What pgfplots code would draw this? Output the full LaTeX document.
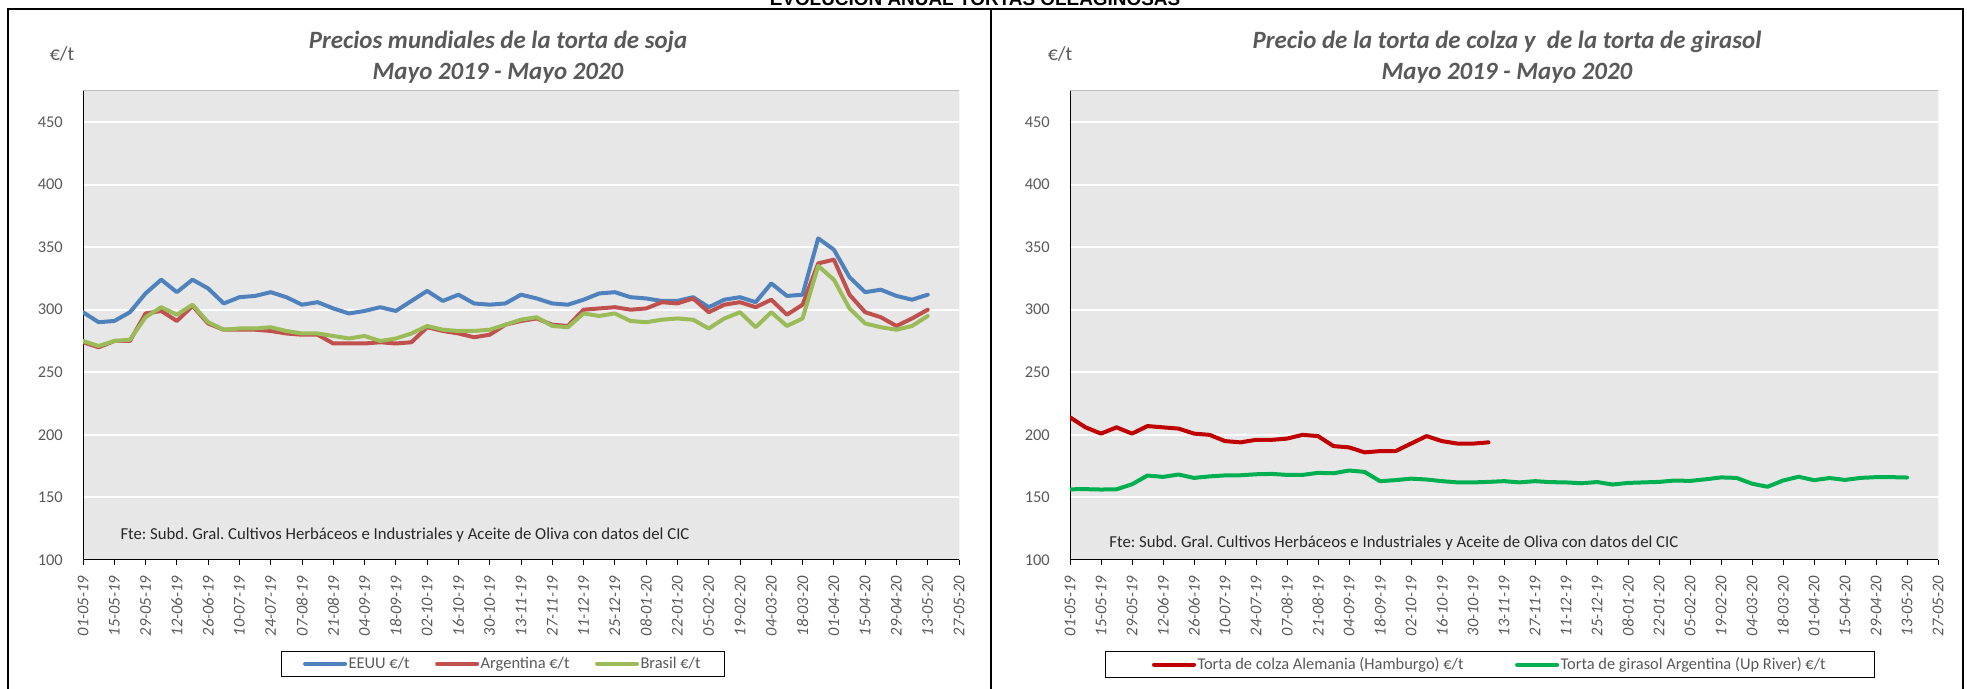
\documentclass[border=0pt]{standalone}
\usepackage{fontspec}
\setmainfont{Carlito}
\newfontfamily\arialfont{Liberation Sans}
\usepackage{pgfplots}
\usepackage{pgfplotstable}
\pgfplotsset{compat=1.18}
\frenchspacing

\definecolor{cblue}{RGB}{79,129,189}
\definecolor{cred}{RGB}{192,80,77}
\definecolor{cgreen}{RGB}{155,187,89}
\definecolor{colza}{RGB}{192,0,0}
\definecolor{girasol}{RGB}{0,176,80}
\definecolor{plotbg}{RGB}{231,231,231}
\definecolor{bordergray}{RGB}{190,190,190}
\definecolor{textgray}{RGB}{89,89,89}
\definecolor{ftegray}{RGB}{40,40,40}

% soja: EEUU, Argentina, Brasil (semanal, semana 0 = 01-05-19)
\pgfplotstableread{
wk eeuu arg bra
0 298 274 275
1 290 270 271
2 291 275 275
3 298 275 276
4 313 297 294
5 324 299 302
6 314 291 296
7 324 303 304
8 317 289 290
9 305 284 284
10 310 284 285
11 311 284 285
12 314 283 286
13 310 281 283
14 304 280 281
15 306 280 281
16 301 273 279
17 297 273 277
18 299 273 279
19 302 274 275
20 299 273 277
21 307 274 281
22 315 286 287
23 307 283 284
24 312 281 283
25 305 278 283
26 304 280 284
27 305 288 288
28 312 291 292
29 309 293 294
30 305 288 287
31 304 287 286
32 308 300 297
33 313 301 295
34 314 302 297
35 310 300 291
36 309 301 290
37 307 306 292
38 307 305 293
39 310 309 292
40 302 298 285
41 308 304 293
42 310 306 298
43 306 302 286
44 321 308 298
45 311 296 287
46 312 304 293
47 357 337 335
48 348 340 324
49 326 312 301
50 314 298 289
51 316 294 286
52 311 287 284
53 308 293 287
54 312 300 295
}\soja

\pgfplotstableread{
wk v
0 214
1 206
2 201
3 206
4 201
5 207
6 206
7 205
8 201
9 200
10 195
11 194
12 196
13 196
14 197
15 200
16 199
17 191
18 190
19 186
20 187
21 187
22 193
23 199
24 195
25 193
26 193
27 194
}\colza

\pgfplotstableread{
wk v
0 156.5
1 156.6
2 156.3
3 156.5
4 160.5
5 167.5
6 166.4
7 168.3
8 165.6
9 166.8
10 167.6
11 167.7
12 168.5
13 168.8
14 168.0
15 168.0
16 169.6
17 169.3
18 171.5
19 170.4
20 163.0
21 163.8
22 165.0
23 164.3
24 163.0
25 162.0
26 162.0
27 162.4
28 163.0
29 162.0
30 163.0
31 162.2
32 162.0
33 161.3
34 162.3
35 160.3
36 161.6
37 162.0
38 162.4
39 163.5
40 163.2
41 164.5
42 166.0
43 165.6
44 161.0
45 158.5
46 163.5
47 166.5
48 163.8
49 165.5
50 164.0
51 165.6
52 166.2
53 166.2
54 165.9
}\girasol

\pgfplotsset{
  tortas/.style={
    scale only axis, height=469.3bp,
    xmin=0, xmax=56, ymin=100, ymax=475,
    xtick={0,2,...,56},
    xticklabels={01-05-19,15-05-19,29-05-19,12-06-19,26-06-19,10-07-19,24-07-19,07-08-19,21-08-19,04-09-19,18-09-19,02-10-19,16-10-19,30-10-19,13-11-19,27-11-19,11-12-19,25-12-19,08-01-20,22-01-20,05-02-20,19-02-20,04-03-20,18-03-20,01-04-20,15-04-20,29-04-20,13-05-20,27-05-20},
    ytick={100,150,...,450},
    ymajorgrids, grid style={white, line width=2bp},
    axis background/.style={fill=plotbg},
    axis line style={draw=none},
    tick align=outside, xtick pos=bottom, ytick pos=left, major tick length=5bp,
    xtick style={draw=black, line width=1bp},
    ytick style={draw=none},
    /pgf/number format/assume math mode=true,
    yticklabel style={font=\fontsize{16.5}{18}\selectfont, text=textgray, inner sep=0pt, xshift=-15bp},
    xticklabel style={font=\itshape\fontsize{16.5}{18}\selectfont, text=textgray, yshift=-11bp, rotate=90, anchor=east, inner sep=0pt},
    legend cell align=left,
    every axis plot/.append style={line width=4bp, line join=round, line cap=round},
    legend image code/.code={\draw[##1] (0bp,0bp) -- (40bp,0bp);},
  },
}
\tikzset{
  titulo/.style={anchor=base, font=\bfseries\itshape\fontsize{25}{30}\selectfont, text=textgray},
  unidad/.style={font=\fontsize{20}{22}\selectfont, text=textgray},
  nota/.style={anchor=west, font=\fontsize{16.8}{19}\selectfont, text=ftegray},
}

\newcommand{\fte}{Fte: Subd. Gral. Cultivos Herbáceos e Industriales y Aceite de Oliva con datos del CIC}

\begin{document}
\begin{tikzpicture}
\useasboundingbox (0bp,0bp) rectangle (1967bp,689bp);
\draw[line width=2bp] (8bp,-5bp) rectangle (991bp,680bp);
\draw[line width=2bp] (991bp,-5bp) rectangle (1963bp,680bp);
\node[anchor=base, font=\arialfont\bfseries\fontsize{19}{22}\selectfont] at (975bp,683bp) {EVOLUCIÓN ANUAL TORTAS OLEAGINOSAS};

% titulos
\node[titulo] at (498bp,640bp) {Precios mundiales de la torta de soja};
\node[titulo] at (498bp,609bp) {Mayo 2019 - Mayo 2020};
\node[unidad] at (62bp,635bp) {€/t};
\node[titulo] at (1507bp,640bp) {Precio de la torta de colza y \ de la torta de girasol};
\node[titulo] at (1507bp,609bp) {Mayo 2019 - Mayo 2020};
\node[unidad] at (1060bp,635bp) {€/t};

\begin{axis}[tortas, width=876bp, at={(83bp,129bp)}, anchor=south west,
  legend style={at={(0.479,-0.2207)}, anchor=center, legend columns=3,
    draw=black, line width=0.8bp, fill=white, text=textgray,
    font=\fontsize{16.5}{18}\selectfont, inner xsep=22bp, inner ysep=4bp,
    nodes={inner xsep=1.5bp},
    /tikz/every even column/.append style={column sep=24bp}}]
\draw[bordergray, line width=1bp] (rel axis cs:0,0) rectangle (rel axis cs:1,1);
\draw[black, line width=1.5bp] (rel axis cs:0,1) -- (rel axis cs:0,0) -- (rel axis cs:1,0);
\addplot[cblue] table[x=wk, y=eeuu] {\soja};
\addlegendentry{EEUU €/t}
\addplot[cred] table[x=wk, y=arg] {\soja};
\addlegendentry{Argentina €/t}
\addplot[cgreen] table[x=wk, y=bra] {\soja};
\addlegendentry{Brasil €/t}
\node[nota] at (rel axis cs:0.0388,0.0533) {\fte};
\end{axis}

\begin{axis}[tortas, width=868bp, at={(1070bp,129bp)}, anchor=south west,
  legend style={at={(0.4834,-0.2228)}, anchor=center, legend columns=2,
    draw=black, line width=0.8bp, fill=white, text=textgray,
    font=\fontsize{16.5}{18}\selectfont, inner xsep=47bp, inner ysep=4bp,
    nodes={inner xsep=1.5bp},
    /tikz/every even column/.append style={column sep=50bp}}]
\draw[bordergray, line width=1bp] (rel axis cs:0,0) rectangle (rel axis cs:1,1);
\draw[black, line width=1.5bp] (rel axis cs:0,1) -- (rel axis cs:0,0) -- (rel axis cs:1,0);
\addplot[colza] table[x=wk, y=v] {\colza};
\addlegendentry{Torta de colza Alemania (Hamburgo) €/t}
\addplot[girasol] table[x=wk, y=v] {\girasol};
\addlegendentry{Torta de girasol Argentina (Up River) €/t}
\node[nota] at (rel axis cs:0.0413,0.036) {\fte};
\end{axis}
\end{tikzpicture}
\end{document}
